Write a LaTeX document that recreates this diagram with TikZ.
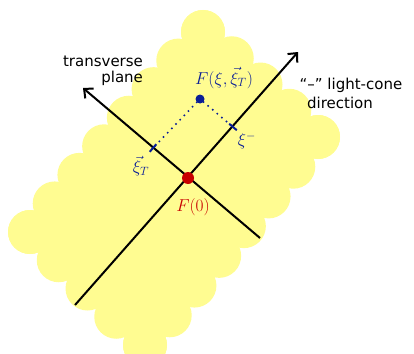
\documentclass[tikz,border=0pt]{standalone}
\usepackage{amsmath, amssymb}
\usepackage{fontspec}
\setsansfont{DejaVu Sans}
\usepackage{tikz}
\usetikzlibrary{arrows.meta,calc}
\definecolor{hlyellow}{RGB}{255,252,145}
\definecolor{inkblue}{RGB}{10,30,150}
\definecolor{inkred}{RGB}{200,0,0}

\begin{document}
\begin{tikzpicture}[x=1pt, y=-1pt, >={Straight Barb[length=7pt,width=13pt]},
  every node/.style={font=\sffamily\fontsize{15}{16}\selectfont, inner sep=1pt},
  mathlbl/.style={font=\fontsize{18}{19}\selectfont},
  axis/.style={line width=2pt, black},
  axtick/.style={line width=2pt, inkblue},
  guide/.style={inkblue, line width=2.2pt, line cap=round, dash pattern=on 0pt off 6pt},
  dotnode/.style={circle, inner sep=0pt, minimum size=#1}]
  \useasboundingbox (0,0) rectangle (414,353);
  \clip (0,0) rectangle (414,353);

  % highlighted region, scalloped edge
  \coordinate (hT) at (203,32);
  \coordinate (hR) at (318,137);
  \coordinate (hB) at (145,345);
  \coordinate (hL) at (30,232);
  \fill[hlyellow] (hT) -- (hR) -- (hB) -- (hL) -- cycle;
  \foreach \s/\e/\n in {hT/hR/4, hR/hB/7, hB/hL/4, hL/hT/7} {
    \foreach \i in {0,...,\n}
      \fill[hlyellow] ($(\s)!\i/\n!(\e)$) circle[radius=22pt];
  }

  % axes
  \coordinate (lcStart) at (75,305);
  \coordinate (lcEnd) at (298,52);
  \coordinate (trStart) at (260,238);
  \coordinate (trEnd) at (83,88);
  \draw[axis, ->] (lcStart) -- (lcEnd);
  \draw[axis, ->] (trStart) -- (trEnd);

  % projections of the field point
  \node[dotnode=9pt, fill=inkblue] (fpt) at (200,99) {};
  \coordinate (tickT) at (153,148);
  \coordinate (tickM) at (233,127);
  \draw[guide] (fpt) -- (tickT);
  \draw[guide] (fpt) -- (tickM);
  \draw[axtick] ($(tickT)+(-3.3,3.8)$) -- ($(tickT)+(3.3,-3.8)$);
  \draw[axtick] ($(tickM)+(-3.8,-3.2)$) -- ($(tickM)+(3.8,3.2)$);
  \node[dotnode=12pt, fill=inkred] (origin) at (188,178) {};

  % labels
  \node[mathlbl, inkblue] (fLbl) at (224,78) {$F(\xi,\vec{\xi}_T)$};
  \node[mathlbl, inkblue] (xiT) at (141,166) {$\vec{\xi}_T$};
  \node[mathlbl, inkblue] (xiM) at (247,141) {$\xi^-$};
  \node[mathlbl, inkred] (oLbl) at (193,207) {$F(0)$};
  \node[align=right] (trLbl) at (103,71) {transverse\\plane};
  \node (lcLbl) at (351,85) {``--'' light-cone};
  \node (lcLblB) at (340,103) {direction};
\end{tikzpicture}
\end{document}
